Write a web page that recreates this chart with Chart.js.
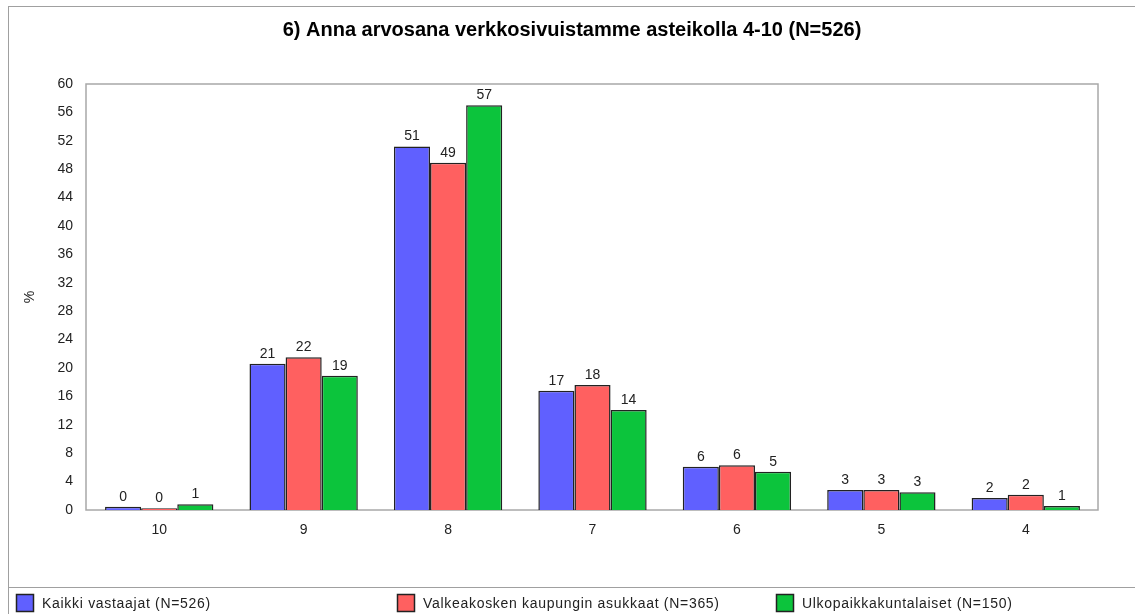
<!DOCTYPE html>
<html>
<head>
<meta charset="utf-8">
<script src="https://cdn.jsdelivr.net/npm/chart.js@4/dist/chart.umd.min.js"></script>
<style>
  html, body { margin: 0; padding: 0; background: #fff; }
  #wrap { position: relative; width: 1135px; height: 614px; }
  #frame { position: absolute; left: 8px; top: 6px; right: 0; bottom: 0;
           border-left: 1px solid #a0a0a0; border-top: 1px solid #a0a0a0; }
  #sep { position: absolute; left: 8px; top: 587px; right: 0; border-top: 1px solid #a0a0a0; }
  canvas { position: absolute; left: 0; top: 0; }
</style>
</head>
<body>
<div id="wrap">
  <div id="frame"></div>
  <div id="sep"></div>
  <canvas id="myChart" width="1135" height="614"></canvas>
</div>
<script>
'use strict';

let grades = ['10', '9', '8', '7', '6', '5', '4'];
let seriesNames = ['Kaikki vastaajat (N=526)', 'Valkeakosken kaupungin asukkaat (N=365)', 'Ulkopaikkakuntalaiset (N=150)'];
let allRespondents = [0.45, 20.6, 51.2, 16.8, 6.1, 2.8, 1.7];
let residents = [0.25, 21.5, 48.9, 17.6, 6.3, 2.8, 2.15];
let outsiders = [0.8, 18.9, 57.0, 14.1, 5.4, 2.5, 0.55];
let yTicks = [0, 4, 8, 12, 16, 20, 24, 28, 32, 36, 40, 44, 48, 52, 56, 60];

let fontFamily = '"Liberation Sans", Arial, sans-serif';
let colors = ['#6060ff', '#ff6060', '#0cc43c'];
let legendX = [16, 397, 776];

// numbers above bars
let valueLabels = {
  id: 'valueLabels',
  afterDatasetsDraw(chart) {
    let ctx = chart.ctx;
    ctx.save();
    ctx.font = '14px ' + fontFamily;
    ctx.fillStyle = '#222';
    ctx.textAlign = 'center';
    ctx.textBaseline = 'bottom';
    chart.data.datasets.forEach((ds, i) => {
      chart.getDatasetMeta(i).data.forEach((bar, j) => {
        ctx.fillText(Math.round(ds.data[j]), bar.x, bar.y - 3);
      });
    });
    ctx.restore();
  }
};

// gray box round the plot area, and the % axis title
let plotFrame = {
  id: 'plotFrame',
  beforeDatasetsDraw(chart) {
    let a = chart.chartArea;
    let ctx = chart.ctx;
    ctx.save();
    ctx.strokeStyle = '#a8a8a8';
    ctx.lineWidth = 1.5;
    ctx.strokeRect(a.left - 1, a.top, a.right - a.left + 1, a.bottom - a.top);
    ctx.translate(30, (a.top + a.bottom) / 2);
    ctx.rotate(-Math.PI / 2);
    ctx.font = '14px ' + fontFamily;
    ctx.fillStyle = '#222';
    ctx.textAlign = 'center';
    ctx.textBaseline = 'middle';
    ctx.fillText('%', 0, 0);
    ctx.restore();
  }
};

// legend row at the bottom
let bottomLegend = {
  id: 'bottomLegend',
  afterDraw(chart) {
    let ctx = chart.ctx;
    ctx.save();
    ctx.font = '14px ' + fontFamily;
    ctx.letterSpacing = '0.7px';
    ctx.textBaseline = 'middle';
    chart.data.datasets.forEach((ds, i) => {
      let x = legendX[i];
      ctx.fillStyle = ds.backgroundColor;
      ctx.fillRect(x, 594, 18, 18);
      ctx.strokeStyle = '#222';
      ctx.lineWidth = 1.5;
      ctx.strokeRect(x + 0.5, 594.5, 17, 17);
      ctx.fillStyle = '#222';
      ctx.fillText(ds.label, x + 26, 604);
    });
    ctx.restore();
  }
};

function makeDataset(label, data, color) {
  return {
    label: label,
    data: data,
    backgroundColor: color,
    borderColor: '#222',
    borderWidth: 1.5,
    borderSkipped: 'bottom',
    categoryPercentage: 0.75,
    barPercentage: 1.0
  };
}

let ctx = document.getElementById('myChart').getContext('2d');
let myChart = new Chart(ctx, {
  type: 'bar',
  data: {
    labels: grades,
    datasets: [
      makeDataset(seriesNames[0], allRespondents, colors[0]),
      makeDataset(seriesNames[1], residents, colors[1]),
      makeDataset(seriesNames[2], outsiders, colors[2])
    ]
  },
  options: {
    responsive: false,
    animation: false,
    layout: { padding: { left: 46, right: 37, top: 0, bottom: 74 } },
    plugins: {
      legend: { display: false },
      tooltip: { enabled: false },
      title: {
        display: true,
        text: '6) Anna arvosana verkkosivuistamme asteikolla 4-10 (N=526)',
        color: '#000',
        font: { family: fontFamily, size: 20, weight: 'bold', lineHeight: 1.2 },
        padding: { top: 18, bottom: 42 }
      }
    },
    scales: {
      x: {
        grid: { display: false, drawTicks: false },
        border: { display: false },
        ticks: { color: '#222', font: { family: fontFamily, size: 14 }, padding: 12 },
        afterFit(scale) { scale.height = 30; }
      },
      y: {
        min: 0,
        max: 60,
        afterBuildTicks(scale) { scale.ticks = yTicks.map(v => ({ value: v })); },
        grid: { display: false, drawTicks: false },
        border: { display: false },
        ticks: { color: '#222', font: { family: fontFamily, size: 14 }, padding: 14 },
        afterFit(scale) { scale.width = 41; }
      }
    }
  },
  plugins: [plotFrame, valueLabels, bottomLegend]
});
</script>
</body>
</html>
